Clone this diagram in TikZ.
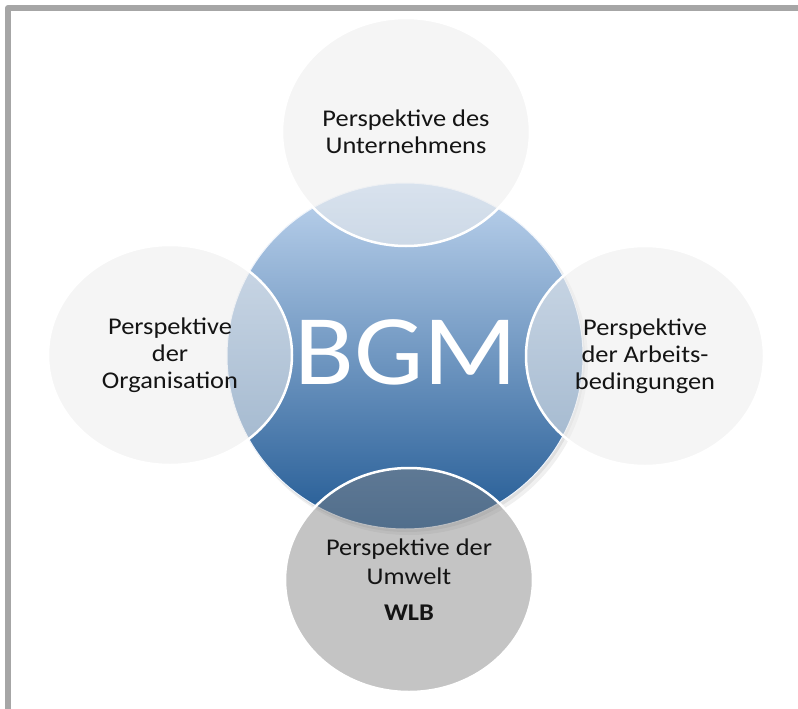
\documentclass[tikz,border=0pt]{standalone}
\usepackage{fontspec}
\setmainfont{Carlito}[FakeStretch=1.1]
\usetikzlibrary{shapes.geometric}
\definecolor{framegray}{HTML}{A6A6A6}
\definecolor{bluetop}{RGB}{190,212,238}
\definecolor{bluemid}{RGB}{114,152,198}
\definecolor{bluebot}{RGB}{34,90,148}
\definecolor{satfill}{HTML}{EEEEEE}
\definecolor{envfill}{HTML}{848484}
\definecolor{txt}{HTML}{141414}
\begin{document}
\begin{tikzpicture}[x=1pt,y=-1pt,
  circlebase/.style={ellipse, inner sep=0pt, align=center, text=txt,
    font=\fontsize{24}{27}\selectfont},
  sat/.style={circlebase, draw=white, line width=2.5pt, fill=satfill,
    fill opacity=0.56, draw opacity=1, text opacity=1},
  envsat/.style={circlebase, draw=white, line width=2.5pt, fill=envfill,
    fill opacity=0.48, draw opacity=1, text opacity=1,
    font=\fontsize{24}{29}\selectfont},
  mainc/.style={ellipse, inner sep=0pt, top color=bluetop, middle color=bluemid,
    bottom color=bluebot, draw=white!75!bluetop, line width=1pt},
  bigtext/.style={text=white, font=\fontsize{100}{100}\selectfont, inner sep=0pt}]
\useasboundingbox (0,0) rectangle (798,709);
\fill[white] (-10,-10) rectangle (810,720);
% frame (top and left edges)
\draw[framegray, line width=6pt, line join=round] (8,720) -- (8,8) -- (810,8);
% soft shadow of the main circle
\fill[black, opacity=0.06] (409,361) ellipse [x radius=179pt, y radius=174pt];
\fill[black, opacity=0.07] (407,359) ellipse [x radius=178pt, y radius=173pt];
% main circle
\node[mainc, minimum width=356pt, minimum height=346pt] (bgm) at (405,356) {};
% satellites
\node[sat, minimum width=248pt, minimum height=228pt] (top) at (406,132)
  {Perspektive des\\Unternehmens};
\node[sat, minimum width=244pt, minimum height=220pt] (left) at (170,355)
  {Perspektive\\der\\Organisation};
\node[sat, minimum width=238pt, minimum height=220pt] (right) at (645,356)
  {Perspektive\\der Arbeits-\\bedingungen};
\node[envsat, minimum width=248pt, minimum height=224pt] (bottom) at (409,580)
  {Perspektive der\\Umwelt\\[7pt]\textbf{WLB}};
% centre label
\node[bigtext, anchor=base] (bgmtext) at (406,384) {BGM};
\end{tikzpicture}
\end{document}
